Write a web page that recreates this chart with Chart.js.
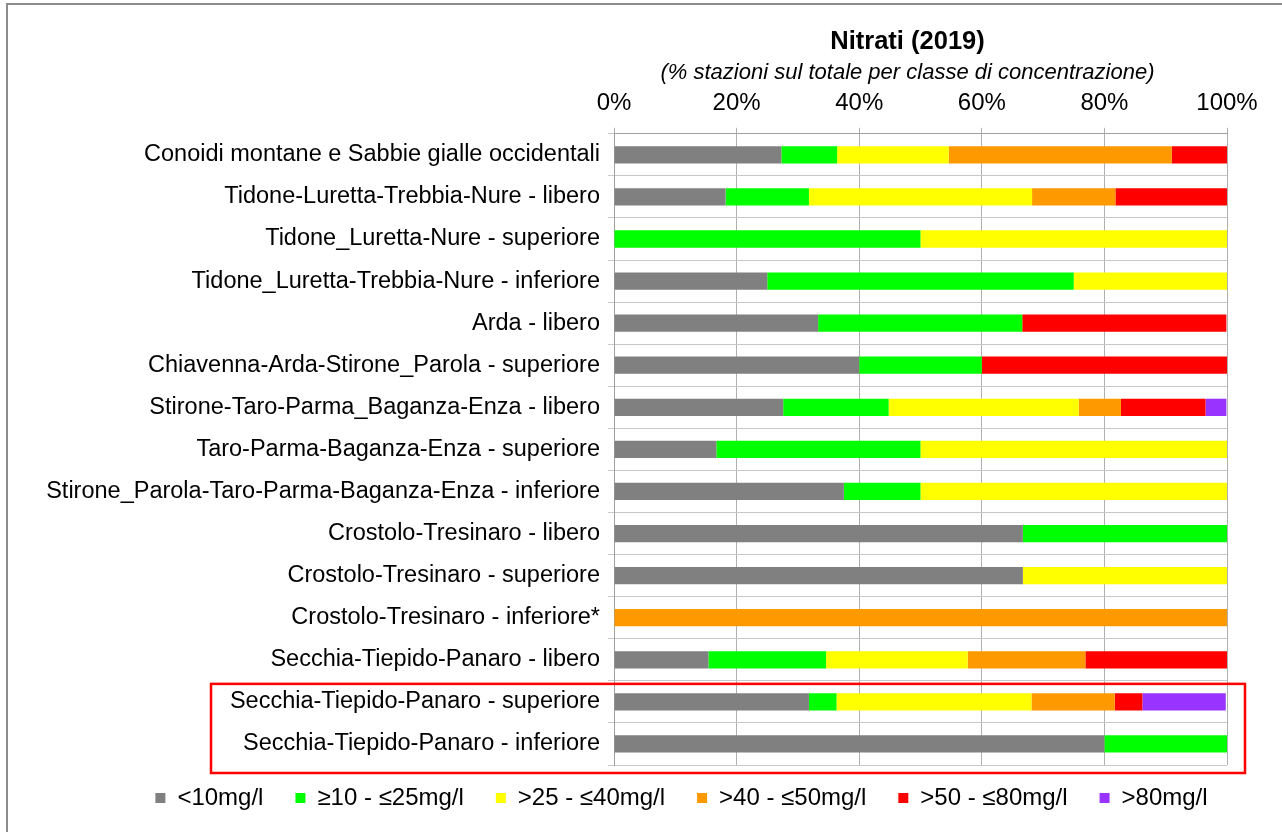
<!DOCTYPE html>
<html>
<head>
<meta charset="utf-8">
<script src="https://cdn.jsdelivr.net/npm/chart.js@4.4.1/dist/chart.umd.min.js"></script>
<style>
  html, body { margin: 0; padding: 0; background: #fff; }
  #wrap { width: 1282px; height: 832px; }
</style>
</head>
<body>
<div id="wrap"><canvas id="nitrati"></canvas></div>
<script>
// Corpi idrici (top to bottom)
const corpiIdrici = [
    'Conoidi montane e Sabbie gialle occidentali',
    'Tidone-Luretta-Trebbia-Nure - libero',
    'Tidone_Luretta-Nure - superiore',
    'Tidone_Luretta-Trebbia-Nure - inferiore',
    'Arda - libero',
    'Chiavenna-Arda-Stirone_Parola - superiore',
    'Stirone-Taro-Parma_Baganza-Enza - libero',
    'Taro-Parma-Baganza-Enza - superiore',
    'Stirone_Parola-Taro-Parma-Baganza-Enza - inferiore',
    'Crostolo-Tresinaro - libero',
    'Crostolo-Tresinaro - superiore',
    'Crostolo-Tresinaro - inferiore*',
    'Secchia-Tiepido-Panaro - libero',
    'Secchia-Tiepido-Panaro - superiore',
    'Secchia-Tiepido-Panaro - inferiore'
];

// % stazioni per classe di concentrazione
const meno10   = [27.3, 18.2, 0, 25, 33.3, 40, 27.6, 16.7, 37.5, 66.7, 66.7, 0, 15.4, 31.8, 80];
const da10a25  = [9.1, 13.6, 50, 50, 33.3, 20, 17.2, 33.3, 12.5, 33.3, 0, 0, 19.2, 4.5, 20];
const da25a40  = [18.2, 36.4, 50, 25, 0, 0, 31.0, 50, 50, 0, 33.3, 0, 23.1, 31.8, 0];
const da40a50  = [36.4, 13.6, 0, 0, 0, 0, 6.9, 0, 0, 0, 0, 100, 19.2, 13.6, 0];
const da50a80  = [9.1, 18.2, 0, 0, 33.3, 40, 13.8, 0, 0, 0, 0, 0, 23.1, 4.5, 0];
const oltre80  = [0, 0, 0, 0, 0, 0, 3.4, 0, 0, 0, 0, 0, 0, 13.6, 0];

const classi = ['<10mg/l', '\u226510 - \u226425mg/l', '>25 - \u226440mg/l', '>40 - \u226450mg/l', '>50 - \u226480mg/l', '>80mg/l'];
const colori = ['#808080', '#00ff00', '#ffff00', '#ff9900', '#ff0000', '#9933ff'];
const serie = [meno10, da10a25, da25a40, da40a50, da50a80, oltre80];
const xTicks = [0, 20, 40, 60, 80, 100];

const FONT = "'Liberation Sans', Arial, sans-serif";
const SOTTOTITOLO = '(% stazioni sul totale per classe di concentrazione)';

// cornice grigia esterna + riquadro rosso sugli ultimi due corpi idrici
const cornice = {
    id: 'cornice',
    afterLayout(chart) {
        // titolo un po' a sinistra, legenda spostata come nell'originale
        chart.boxes.forEach(b => {
            if (b === chart.legend) {
                b.left += 58; b.right += 58;
                b.top -= 11; b.bottom -= 11;
            } else if (b.options && (b.options.text === 'Nitrati (2019)' || b.options.text === SOTTOTITOLO)) {
                b.left -= 13; b.right -= 13;
            }
        });
    },
    beforeDraw(chart) {
        const ctx = chart.ctx;
        ctx.save();
        ctx.fillStyle = '#fff';
        ctx.fillRect(0, 0, chart.width, chart.height);
        ctx.strokeStyle = '#8c8c8c';
        ctx.lineWidth = 2;
        ctx.strokeRect(7, 4, chart.width + 20, chart.height + 20);
        ctx.restore();
    },
    afterDraw(chart) {
        const ctx = chart.ctx;
        const area = chart.chartArea;
        const y = chart.scales.y;
        const top = y.getPixelForValue(13) - 18;
        const bottom = area.bottom + 8;
        ctx.save();
        ctx.strokeStyle = '#ff0000';
        ctx.lineWidth = 2.5;
        ctx.strokeRect(area.left - 403, top, area.width + 421, bottom - top);
        ctx.restore();
    }
};

new Chart(document.getElementById('nitrati').getContext('2d'), {
    type: 'bar',
    data: {
        labels: corpiIdrici,
        datasets: serie.map((valori, i) => ({
            label: classi[i],
            data: valori,
            backgroundColor: colori[i],
            borderWidth: 0,
            categoryPercentage: 1,
            barPercentage: 0.41
        }))
    },
    options: {
        indexAxis: 'y',
        responsive: true,
        maintainAspectRatio: false,
        animation: false,
        layout: { padding: { top: 10, left: 20, right: 55, bottom: 1 } },
        scales: {
            x: {
                position: 'top',
                stacked: true,
                min: 0,
                max: 100,
                afterBuildTicks: s => { s.ticks = xTicks.map(v => ({ value: v })); },
                afterFit: s => { s.height = 47.8; },
                ticks: {
                    callback: v => v + '%',
                    color: '#000',
                    padding: 10,
                    font: { family: FONT, size: 24 }
                },
                grid: { color: '#b0b0b0', tickLength: 6, lineWidth: 1 },
                border: { color: '#a0a0a0' }
            },
            y: {
                stacked: true,
                afterFit: s => { s.width = 594; },
                ticks: {
                    color: '#000',
                    padding: 8,
                    autoSkip: false,
                    font: { family: FONT, size: 23.5 }
                },
                grid: { color: '#c8c8c8', tickLength: 6, lineWidth: 1 },
                border: { color: '#a0a0a0' }
            }
        },
        plugins: {
            title: {
                display: true,
                text: 'Nitrati (2019)',
                fullSize: false,
                color: '#000',
                font: { family: FONT, size: 25.5, weight: 'bold' },
                padding: { top: 17, bottom: 0 }
            },
            subtitle: {
                display: true,
                text: SOTTOTITOLO,
                fullSize: false,
                color: '#000',
                font: { family: FONT, size: 22, style: 'italic' },
                padding: { top: 2, bottom: 0 }
            },
            legend: {
                position: 'bottom',
                labels: {
                    color: '#000',
                    boxWidth: 10,
                    boxHeight: 10,
                    padding: 32,
                    font: { family: FONT, size: 24 }
                }
            },
            tooltip: { enabled: false }
        }
    },
    plugins: [cornice]
});
</script>
</body>
</html>
